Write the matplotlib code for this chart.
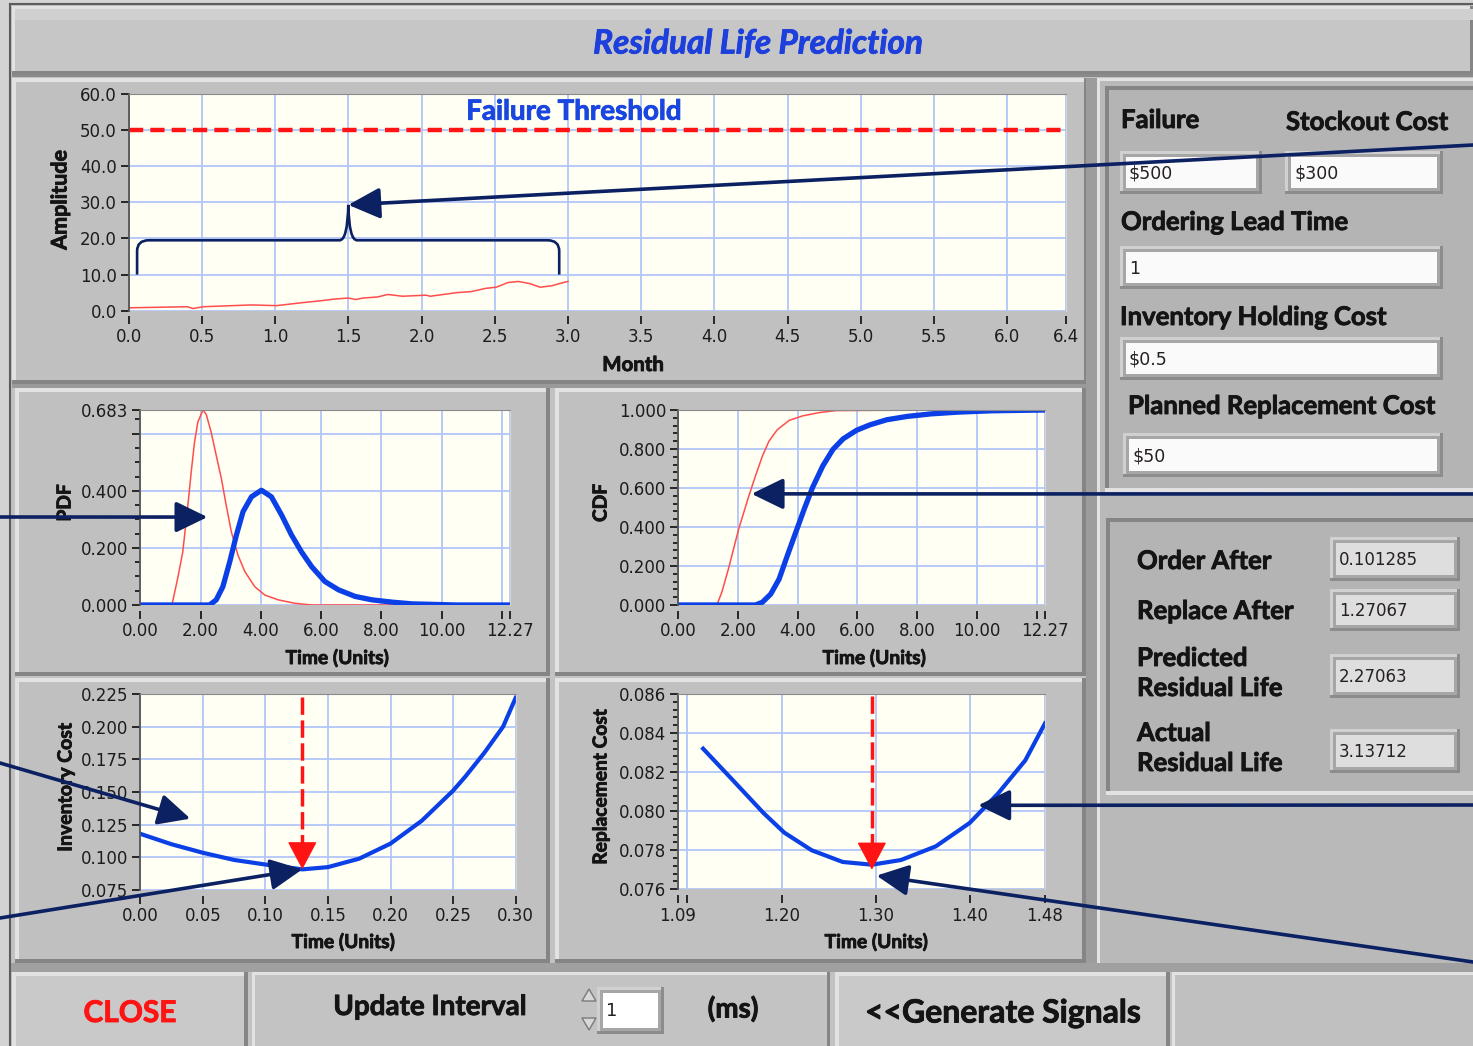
import matplotlib.pyplot as plt
import matplotlib.patheffects as pe
from matplotlib.patches import Rectangle, PathPatch, Polygon
from matplotlib.path import Path
from matplotlib.ticker import MultipleLocator

W, H = 1473, 1046

# ---- degradation signal (top chart) ----
signal_month = [0.0, 0.40, 0.44, 0.51, 0.84, 1.01, 1.18, 1.30, 1.40, 1.50, 1.55, 1.60, 1.70, 1.77,
                1.87, 2.03, 2.06, 2.24, 2.34, 2.44, 2.51, 2.59, 2.66, 2.74, 2.81, 2.89, 2.94, 3.0]
signal_amp = [0.8, 1.1, 0.6, 1.1, 1.6, 1.4, 2.2, 2.7, 3.2, 3.5, 3.1, 3.5, 3.8, 4.5,
              4.0, 4.3, 4.0, 5.0, 5.3, 6.2, 6.5, 7.8, 8.1, 7.5, 6.5, 6.9, 7.5, 8.1]
failure_threshold = 50.0
top_xticks = [0.0, 0.5, 1.0, 1.5, 2.0, 2.5, 3.0, 3.5, 4.0, 4.5, 5.0, 5.5, 6.0, 6.4]
top_yticks = [0, 10, 20, 30, 40, 50, 60]

# ---- life distributions ----
pdf_red_t = [0, 1.05, 1.24, 1.41, 1.58, 1.69, 1.80, 1.91, 2.08, 2.19, 2.35, 2.52, 2.69, 2.85,
             3.02, 3.24, 3.47, 3.80, 4.13, 4.58, 5.13, 5.69, 8.7]
pdf_red = [0, 0, 0.093, 0.186, 0.35, 0.466, 0.571, 0.641, 0.683, 0.667, 0.606, 0.524, 0.443, 0.35,
           0.257, 0.175, 0.117, 0.064, 0.035, 0.018, 0.006, 0.0, 0.0]
pdf_blue_t = [0, 2.30, 2.52, 2.74, 2.97, 3.19, 3.41, 3.69, 4.02, 4.35, 4.69, 5.02, 5.35, 5.69,
              6.13, 6.58, 7.13, 7.69, 8.36, 9.02, 10.5, 12.27]
pdf_blue = [0, 0, 0.018, 0.064, 0.152, 0.245, 0.327, 0.379, 0.402, 0.379, 0.315, 0.245, 0.186, 0.134,
            0.082, 0.053, 0.030, 0.018, 0.010, 0.004, 0.0, 0.0]

cdf_red_t = [0, 1.30, 1.47, 1.69, 1.86, 2.03, 2.20, 2.37, 2.59, 2.82, 3.04, 3.32, 3.72, 4.17, 4.73, 5.29, 8.6]
cdf_red = [0, 0, 0.068, 0.187, 0.289, 0.39, 0.475, 0.56, 0.662, 0.763, 0.84, 0.899, 0.947, 0.97, 0.987, 0.997, 1.0]
cdf_blue_t = [0, 2.59, 2.82, 3.10, 3.38, 3.66, 3.94, 4.22, 4.50, 4.84, 5.18, 5.52, 5.97, 6.42, 6.98,
              7.66, 8.45, 9.35, 10.5, 12.27]
cdf_blue = [0, 0, 0.014, 0.056, 0.133, 0.255, 0.374, 0.492, 0.603, 0.713, 0.798, 0.852, 0.896, 0.924, 0.95,
            0.967, 0.98, 0.989, 0.996, 1.0]

dist_xticks = [0, 2, 4, 6, 8, 10, 12, 12.27]
dist_xlabels = ['0.00', '2.00', '4.00', '6.00', '8.00', '10.00', '', '12.27']

# ---- cost curves ----
inv_t = [0, 0.025, 0.05, 0.075, 0.10, 0.1295, 0.15, 0.175, 0.20, 0.225, 0.25, 0.26, 0.275, 0.29, 0.30]
inv_cost = [0.118, 0.110, 0.1035, 0.098, 0.0945, 0.0908, 0.0925, 0.099, 0.1105, 0.128, 0.151, 0.162, 0.180, 0.200, 0.222]
inv_xticks = [0.0, 0.05, 0.10, 0.15, 0.20, 0.25, 0.30]
inv_yticks = [0.075, 0.100, 0.125, 0.150, 0.175, 0.200, 0.225]
order_opt = 0.1295

rep_t = [1.1167, 1.148, 1.181, 1.203, 1.232, 1.265, 1.296, 1.327, 1.364, 1.400, 1.430, 1.459, 1.48]
rep_cost = [0.0832, 0.0816, 0.0799, 0.0789, 0.0780, 0.0774, 0.07726, 0.0775, 0.0782, 0.0794, 0.0809, 0.0826, 0.0845]
rep_xticks = [1.09, 1.10, 1.20, 1.30, 1.40, 1.48]
rep_xlabels = ['1.09', '', '1.20', '1.30', '1.40', '1.48']
rep_yticks = [0.076, 0.078, 0.080, 0.082, 0.084, 0.086]
replace_opt = 1.296

# ---- front panel values ----
cost_inputs = {'Failure': '$500', 'Stockout Cost': '$300', 'Ordering Lead Time': '1',
               'Inventory Holding Cost': '$0.5', 'Planned Replacement Cost': '$50'}
result_labels = ['Order After', 'Replace After', 'Predicted\nResidual Life', 'Actual\nResidual Life']
result_values = ['0.101285', '1.27067', '2.27063', '3.13712']

NAVY = '#0b2162'
BLUE = '#0b40e6'
RED = '#ff1414'
THIN_RED = '#ff4d4d'
LABEL_FONT = 'Lato'

plt.rcParams['font.family'] = 'DejaVu Sans'

fig = plt.figure(figsize=(W / 100, H / 100), dpi=100)
fig.patch.set_facecolor('#d3d3d3')
bg = fig.add_axes([0, 0, 1, 1])
bg.set_xlim(0, W)
bg.set_ylim(H, 0)
bg.axis('off')


def box(x0, y0, x1, y1, face):
    bg.add_patch(Rectangle((x0, y0), x1 - x0, y1 - y0, facecolor=face, edgecolor='none'))


def bevel(x0, y0, x1, y1, face, t=3, light='#e2e2e2', dark='#858585', sunken=False):
    box(x0, y0, x1, y1, face)
    hi, lo = (dark, light) if sunken else (light, dark)
    box(x0, y0, x1, y0 + t, hi)
    box(x0, y0, x0 + t, y1, hi)
    box(x0, y1 - t, x1, y1, lo)
    box(x1 - t, y0, x1, y1, lo)


def field(x0, y0, x1, y1, text, face='#fafafa', fs=12.5):
    bevel(x0 - 6, y0 - 6, x1 + 6, y1 + 6, '#a6a6a6', t=3, light='#d0d0d0', dark='#8c8c8c')
    box(x0, y0, x1, y1, face)
    bg.text(x0 + 3, (y0 + y1) / 2 + 1, text, ha='left', va='center', fontsize=fs, color='#262020')


def label(x, y, text, fs=18.5, ha='left', color='#141414', rot=0, style='normal'):
    t = bg.text(x, y, text, ha=ha, va='center', fontsize=fs, color=color, rotation=rot,
                fontfamily=LABEL_FONT, fontweight='bold', fontstyle=style, linespacing=1.3)
    # LabVIEW's bold text is a little heavier than Lato Bold
    t.set_path_effects([pe.withStroke(linewidth=0.6, foreground=color)])


# frame and title bar
box(10, 4, W, H, '#c2c2c2')
bg.plot([10, 10], [4, H], color='#5c5c5c', lw=1.5)
bg.plot([10, W], [4, 4], color='#5c5c5c', lw=1.5)
bevel(12, 6, W, 74, '#c6c6c6', t=3)
box(15, 9, W, 20, '#d0d0d0')
box(12, 74, W, 77, '#8a8a8a')
label(758, 44, 'Residual Life Prediction', fs=24, ha='center', color='#1d3fdc', style='italic')

# chart panels
bevel(12, 78, 1088, 384, '#c0c0c0', t=4)
box(12, 384, 1088, 388, '#9a9a9a')
bevel(15, 388, 550, 676, '#c0c0c0', t=4)
bevel(555, 388, 1086, 676, '#c0c0c0', t=4)
bevel(15, 678, 550, 963, '#c0c0c0', t=4)
bevel(555, 678, 1086, 963, '#c0c0c0', t=4)
box(1086, 78, 1097, 968, '#9c9c9c')

# right hand panels
bevel(1097, 78, W + 5, 968, '#b9b9b9', t=3)
bevel(1105, 86, W + 5, 492, '#b4b4b4', t=4, sunken=True)
bevel(1106, 518, W + 5, 795, '#b4b4b4', t=4, sunken=True)

label(1121, 120, 'Failure')
label(1286, 122, 'Stockout Cost')
field(1126, 157, 1256, 188, cost_inputs['Failure'])
field(1291, 157, 1437, 188, cost_inputs['Stockout Cost'])
label(1121, 222, 'Ordering Lead Time')
field(1126, 252, 1437, 283, cost_inputs['Ordering Lead Time'])
label(1120, 317, 'Inventory Holding Cost')
field(1126, 343, 1437, 374, cost_inputs['Inventory Holding Cost'])
label(1128, 406, 'Planned Replacement Cost')
field(1129, 439, 1437, 471, cost_inputs['Planned Replacement Cost'])

label_y = [561, 611, 673, 748]
box_y = [(543, 575), (595, 625), (660, 692), (735, 767)]
for lab, val, ly, (b0, b1) in zip(result_labels, result_values, label_y, box_y):
    label(1137, ly, lab)
    field(1336, b0, 1454, b1, val, face='#dedede', fs=12)

# bottom button row
box(10, 963, W, 972, '#a0a0a0')
bevel(12, 972, 248, H + 5, '#c9c9c9', t=4)
bevel(252, 972, 830, H + 5, '#c3c3c3', t=3)
bevel(835, 972, 1170, H + 5, '#c9c9c9', t=4)
bevel(1172, 972, W + 5, H + 5, '#c0c0c0', t=3)
label(130, 1013, 'CLOSE', fs=21.5, ha='center', color=RED)
label(430, 1007, 'Update Interval', fs=20, ha='center')
label(733, 1009, '(ms)', fs=20, ha='center')
label(1003, 1013, '<<Generate Signals', fs=23, ha='center')
bg.add_patch(Polygon([[582, 1001], [589, 989], [596, 1001]], closed=True, facecolor='#d8d8d8', edgecolor='#7a7a7a', lw=1))
bg.add_patch(Polygon([[582, 1018], [589, 1030], [596, 1018]], closed=True, facecolor='#d8d8d8', edgecolor='#7a7a7a', lw=1))
field(603, 993, 658, 1028, '1', face='#ffffff', fs=13)

# axis titles (drawn on the panel, arrows pass over them)
label(60, 200, 'Amplitude', fs=15.5, ha='center', rot=90)
label(633, 365, 'Month', fs=14.7, ha='center')
label(65, 503, 'PDF', fs=13.8, ha='center', rot=90)
label(337, 658, 'Time (Units)', fs=13.8, ha='center')
label(601, 503, 'CDF', fs=13.8, ha='center', rot=90)
label(874, 658, 'Time (Units)', fs=13.8, ha='center')
label(66, 787, 'Inventory Cost', fs=14, ha='center', rot=90)
label(343, 942, 'Time (Units)', fs=13.8, ha='center')
label(601, 787, 'Replacement Cost', fs=13.8, ha='center', rot=90)
label(876, 942, 'Time (Units)', fs=13.8, ha='center')


def plot_axes(x0, y0, x1, y1):
    ax = fig.add_axes([x0 / W, 1 - y1 / H, (x1 - x0) / W, (y1 - y0) / H])
    ax.set_facecolor('#fffff3')
    ax.patch.set_edgecolor('#a8a8a8')
    ax.grid(True, color='#b2c6fa', lw=1.3)
    ax.set_axisbelow(True)
    ax.spines['top'].set_color('#8a8a8a')
    ax.spines['right'].set_color('#d4d4d4')
    ax.spines['left'].set_color('#555555')
    ax.spines['left'].set_linewidth(1.3)
    ax.spines['bottom'].set_position(('outward', 4))
    ax.spines['bottom'].set_color('none')
    ax.tick_params(direction='out', length=5.5, width=1.4, color='#262626',
                   labelsize=12, labelcolor='#1c1c1c', pad=3)
    ax.tick_params(which='minor', direction='out', length=3.5, width=1.4, color='#262626')
    return ax


arrow_style = dict(arrowstyle='-|>,head_length=1.95,head_width=0.95', color=NAVY, lw=2.6,
                   mutation_scale=10, shrinkA=0, shrinkB=0)


def pointer(ax, xy, start):
    ax.annotate('', xy=xy, xycoords='data', xytext=(start[0] / W, 1 - start[1] / H),
                textcoords='figure fraction', arrowprops=arrow_style, annotation_clip=False)


def optimum_marker(ax, x, top, tip, head):
    ax.plot([x, x], [top, tip + head], color=RED, lw=2.5, ls=(0, (5.0, 1.6)), zorder=4)
    ax.annotate('', xy=(x, tip), xytext=(x, tip + head),
                arrowprops=dict(arrowstyle='-|>,head_length=1.8,head_width=0.95', color=RED,
                                lw=1, mutation_scale=10, shrinkA=0, shrinkB=0))


# top chart: degradation signal
ax_top = plot_axes(128.6, 94, 1066, 310.7)
ax_top.plot(signal_month, signal_amp, color=THIN_RED, lw=1.1)
ax_top.axhline(failure_threshold, color=RED, lw=3.2, ls=(0, (3.2, 1.6)))
ft = ax_top.text(3.04, 55.1, 'Failure Threshold', ha='center', va='center', fontsize=20,
                 fontfamily=LABEL_FONT, fontweight='bold', color='#1a46e0')
ft.set_path_effects([pe.withStroke(linewidth=0.6, foreground='#1a46e0')])
ax_top.set_xlim(0, 6.4)
ax_top.set_ylim(0, 60)
ax_top.set_xticks(top_xticks, ['%.1f' % v for v in top_xticks])
ax_top.set_yticks(top_yticks, ['%.1f' % v for v in top_yticks])

# brace around the observed part of the signal
brace_l, brace_r, brace_mid = 0.058, 2.94, 1.5
brace_low, brace_high, brace_tip = 10.0, 19.5, 29.3
verts = [(brace_l, brace_low), (brace_l, brace_high - 3), (brace_l, brace_high), (brace_l + 0.08, brace_high),
         (brace_mid - 0.06, brace_high), (brace_mid - 0.005, brace_high), (brace_mid, brace_tip),
         (brace_mid + 0.005, brace_high), (brace_mid + 0.06, brace_high),
         (brace_r - 0.08, brace_high), (brace_r, brace_high), (brace_r, brace_high - 3), (brace_r, brace_low)]
codes = [Path.MOVETO, Path.LINETO, Path.CURVE3, Path.CURVE3, Path.LINETO, Path.CURVE3, Path.CURVE3,
         Path.CURVE3, Path.CURVE3, Path.LINETO, Path.CURVE3, Path.CURVE3, Path.LINETO]
ax_top.add_patch(PathPatch(Path(verts, codes), facecolor='none', edgecolor=NAVY, lw=1.9))
pointer(ax_top, (brace_mid, brace_tip), (W, 145))

# PDF
ax_pdf = plot_axes(140.3, 410, 510, 605)
ax_pdf.plot(pdf_red_t, pdf_red, color=THIN_RED, lw=1.1)
ax_pdf.plot(pdf_blue_t, pdf_blue, color=BLUE, lw=3.8)
ax_pdf.set_xlim(0, 12.27)
ax_pdf.set_ylim(0, 0.683)
ax_pdf.set_xticks(dist_xticks, dist_xlabels)
ax_pdf.set_yticks([0, 0.2, 0.4, 0.6, 0.683], ['0.000', '0.200', '0.400', '', '0.683'])
ax_pdf.yaxis.set_minor_locator(MultipleLocator(0.05))
pointer(ax_pdf, (2.23, 0.308), (0, 517))

# CDF
ax_cdf = plot_axes(678, 410, 1045, 605)
ax_cdf.plot(cdf_red_t, cdf_red, color=THIN_RED, lw=1.1)
ax_cdf.plot(cdf_blue_t, cdf_blue, color=BLUE, lw=3.8)
ax_cdf.set_xlim(0, 12.27)
ax_cdf.set_ylim(0, 1.0)
ax_cdf.set_xticks(dist_xticks, dist_xlabels)
ax_cdf.set_yticks([0, 0.2, 0.4, 0.6, 0.8, 1.0], ['0.000', '0.200', '0.400', '0.600', '0.800', '1.000'])
ax_cdf.yaxis.set_minor_locator(MultipleLocator(0.04))
pointer(ax_cdf, (2.46, 0.57), (W, 494))

# inventory cost
ax_inv = plot_axes(140.3, 694, 515.6, 890)
ax_inv.plot(inv_t, inv_cost, color=BLUE, lw=3.0)
ax_inv.set_xlim(0, 0.30)
ax_inv.set_ylim(0.075, 0.225)
ax_inv.set_xticks(inv_xticks, ['%.2f' % v for v in inv_xticks])
ax_inv.set_yticks(inv_yticks, ['%.3f' % v for v in inv_yticks])
optimum_marker(ax_inv, order_opt, 0.2227, min(inv_cost), 0.0185)
pointer(ax_inv, (0.040, 0.1296), (0, 763))
pointer(ax_inv, (order_opt, min(inv_cost)), (0, 918))

# replacement cost
ax_rep = plot_axes(678, 694, 1045, 889.3)
ax_rep.plot(rep_t, rep_cost, color=BLUE, lw=3.0)
ax_rep.set_xlim(1.09, 1.48)
ax_rep.set_ylim(0.076, 0.086)
ax_rep.set_xticks(rep_xticks, rep_xlabels)
ax_rep.set_yticks(rep_yticks, ['%.3f' % v for v in rep_yticks])
ax_rep.yaxis.set_minor_locator(MultipleLocator(0.0004))
optimum_marker(ax_rep, replace_opt, 0.0859, 0.0770, 0.00125)
pointer(ax_rep, (1.409, 0.0803), (W, 805))
pointer(ax_rep, (1.301, 0.0767), (W, 962))

fig.savefig('out.png', dpi=100, facecolor=fig.get_facecolor())
